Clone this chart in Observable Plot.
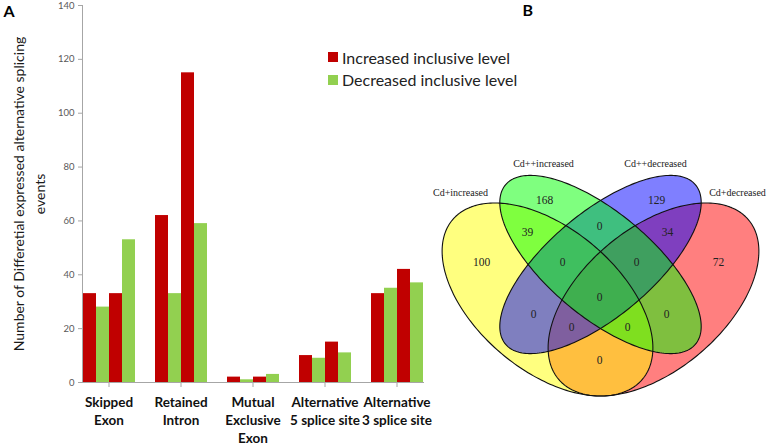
<!DOCTYPE html>
<html>
<head>
<meta charset="utf-8">
<script src="https://cdn.jsdelivr.net/npm/d3@7"></script>
<script src="https://cdn.jsdelivr.net/npm/@observablehq/plot@0.6"></script>
<style>
  html, body { margin: 0; padding: 0; background: #fff; }
  #fig { position: relative; width: 767px; height: 445px; overflow: hidden; font-family: Lato, "Open Sans", sans-serif; }
  #fig svg { position: absolute; left: 0; top: 0; }
  .leg-row { position: absolute; left: 328px; height: 22px; display: flex; align-items: center; font-size: 16px; color: #222; white-space: nowrap; }
  .leg-sw { width: 10px; height: 10px; margin-right: 4px; }
</style>
</head>
<body>
<div id="fig"></div>
<script>
// ---------- DATA: panel A ----------
const categories = ["Skipped\nExon", "Retained\nIntron", "Mutual\nExclusive\nExon", "Alternative\n5 splice site", "Alternative\n3 splice site"];
const seriesKeys = ["s1", "s2", "s3", "s4"];
const legendLabels = ["Increased inclusive level", "Decreased inclusive level"];
const seriesDirection = ["Increased inclusive level", "Decreased inclusive level", "Increased inclusive level", "Decreased inclusive level"];
const valuesS1 = [33, 62, 2, 10, 33];
const valuesS2 = [28, 33, 1, 9, 35];
const valuesS3 = [33, 115, 2, 15, 42];
const valuesS4 = [53, 59, 3, 11, 37];
const yTicks = [0, 20, 40, 60, 80, 100, 120, 140];
const yLabel = "Number of Differetial expressed alternative splicing\nevents";

// ---------- DATA: panel B ----------
const vennSets = ["Cd+increased", "Cd++increased", "Cd++decreased", "Cd+decreased"];
const vennRegionKeys = ["1", "2", "3", "4", "12", "23", "34", "123", "234", "1234", "13", "134", "124", "24", "14"];
const vennCounts = [100, 168, 129, 72, 39, 0, 34, 0, 0, 0, 0, 0, 0, 0, 0];

// ---------- LAYOUT / STYLE (not data) ----------
const barColors = ["#c00000", "#92d050"];
const vennColors = ["#ffff00", "#00ff00", "#0000ff", "#ff0000"];
const vennFillOrder = [3, 0, 2, 1];
const vennEllipses = [
  {cx: 547, cy: 299, a: 124, b: 71, rot: 40},
  {cx: 600, cy: 264, a: 124, b: 52, rot: 40},
  {cx: 600, cy: 264, a: 124, b: 52, rot: -40},
  {cx: 653, cy: 299, a: 124, b: 71, rot: -40}
];
const vennSetLabelPos = [[460, 192], [543, 163], [655, 163], [737, 192]];
const vennRegionPos = [[481, 262], [544, 200], [656, 200], [718, 262], [527, 232], [599, 226], [667, 232],
  [562, 262], [636, 262], [599, 297], [533, 314], [571, 327], [627, 327], [666, 314], [599, 360]];

const W = 767, H = 445;
const fig = document.getElementById("fig");
const seriesValues = [valuesS1, valuesS2, valuesS3, valuesS4];
const barData = categories.flatMap((c, i) =>
  seriesKeys.map((s, j) => ({category: c, series: s, direction: seriesDirection[j], value: seriesValues[j][i]})));

const bar = Plot.plot({
  width: 440, height: H,
  marginLeft: 71, marginRight: 6, marginTop: 5, marginBottom: 63,
  style: {background: "transparent", fontFamily: "Lato, sans-serif", overflow: "visible"},
  fx: {domain: categories, paddingInner: 0.27, paddingOuter: 0.135, label: null, axis: null},
  x: {domain: seriesKeys, padding: 0, axis: null},
  y: {domain: [0, 140], axis: null},
  color: {domain: legendLabels, range: barColors},
  marks: [
    Plot.barY(barData, {fx: "category", x: "series", y: "value", fill: "direction", inset: 0}),
    Plot.axisY({facetAnchor: "left", ticks: yTicks, tickSize: 4, tickPadding: 4, fontSize: 9.5, fill: "#595959", stroke: "#a6a6a6", label: null}),
    Plot.frame({anchor: "left", facet: "super", stroke: "#a6a6a6"}),
    Plot.frame({anchor: "bottom", facet: "super", stroke: "#a6a6a6"}),
    Plot.axisFx({anchor: "bottom", tickSize: 5, tickPadding: 7, fontSize: 13.5, fontWeight: "bold", lineHeight: 1.33, fill: "#111", stroke: "#a6a6a6", label: null}),
    Plot.text([yLabel], {facet: "super", frameAnchor: "left", textAnchor: "middle", lineAnchor: "middle", rotate: -90, dx: -55, fontSize: 14, lineHeight: 1.5, fill: "#1a1a1a"})
  ]
});
fig.appendChild(bar);

// legend (HTML swatches built from arrays)
legendLabels.forEach((lab, i) => {
  const row = document.createElement("div");
  row.className = "leg-row";
  row.style.top = (46 + i * 22.5) + "px";
  const sw = document.createElement("span");
  sw.className = "leg-sw";
  sw.style.background = barColors[i];
  row.appendChild(sw);
  row.appendChild(document.createTextNode(lab));
  fig.appendChild(row);
});

// Venn geometry
function ellipsePoints(e) {
  const th = e.rot * Math.PI / 180;
  return d3.range(0, 241).map(k => {
    const t = k / 240 * 2 * Math.PI;
    return {
      x: e.cx + e.a * Math.cos(t) * Math.cos(th) - e.b * Math.sin(t) * Math.sin(th),
      y: e.cy + e.a * Math.cos(t) * Math.sin(th) + e.b * Math.sin(t) * Math.cos(th)
    };
  });
}
const ellPts = vennEllipses.map(ellipsePoints);
const regions = vennRegionKeys.map((k, i) => ({key: k, count: vennCounts[i], x: vennRegionPos[i][0], y: vennRegionPos[i][1]}));
const setLabels = vennSets.map((s, i) => ({name: s, x: vennSetLabelPos[i][0], y: vennSetLabelPos[i][1]}));

const venn = Plot.plot({
  width: W, height: H, margin: 0,
  x: {domain: [0, W], range: [0, W], axis: null},
  y: {domain: [0, H], range: [0, H], axis: null},
  style: {background: "transparent"},
  marks: [
    ...vennFillOrder.map(i => Plot.line(ellPts[i], {x: "x", y: "y", fill: vennColors[i], fillOpacity: 0.5, stroke: "none"})),
    ...ellPts.map(p => Plot.line(p, {x: "x", y: "y", stroke: "#111", strokeWidth: 1.1})),
    Plot.text(setLabels, {x: "x", y: "y", text: "name", fontFamily: "Liberation Serif, serif", fontSize: 10, fill: "#222"}),
    Plot.text(regions, {x: "x", y: "y", text: d => String(d.count), fontFamily: "Liberation Serif, serif", fontSize: 11.5, fill: "#222"}),
    Plot.text(["A"], {frameAnchor: "top-left", dx: 3, dy: 5, fontSize: 16, fontWeight: "bold", fontFamily: "Lato, sans-serif", fill: "#000"}),
    Plot.text(["B"], {frameAnchor: "top-left", dx: 522, dy: 4, fontSize: 16, fontWeight: "bold", fontFamily: "Lato, sans-serif", fill: "#000"})
  ]
});
fig.appendChild(venn);
</script>
</body>
</html>
